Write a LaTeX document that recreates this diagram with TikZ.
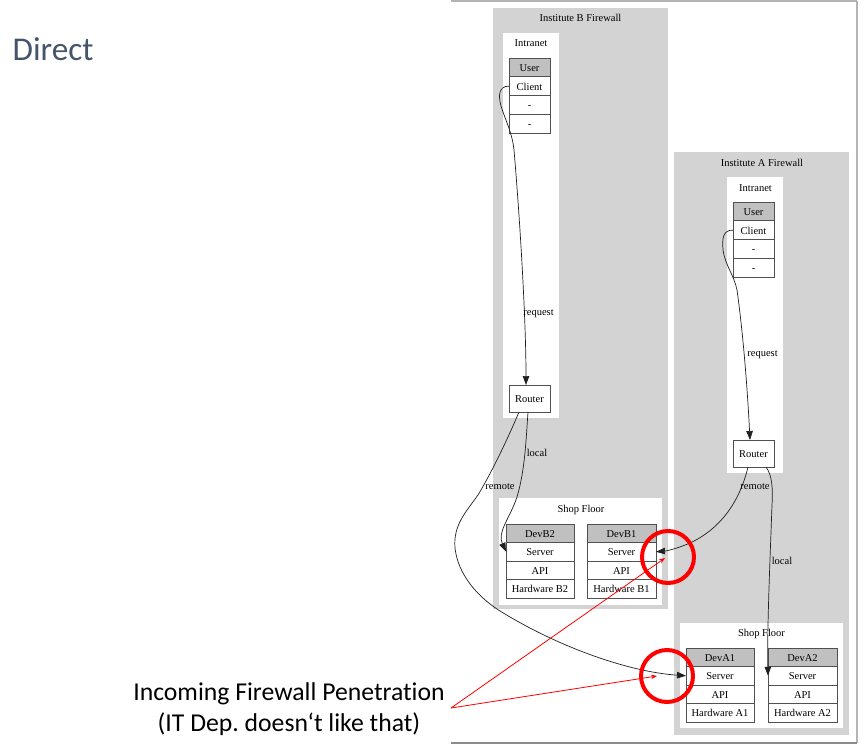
\documentclass[tikz,border=0pt]{standalone}
\usepackage{fontspec}
\setmainfont{Liberation Serif}
\newfontfamily\calibrifont[Ligatures=NoCommon]{Carlito}
\usetikzlibrary{arrows.meta}

\definecolor{clustergrey}{HTML}{D3D3D3}
\definecolor{headgrey}{HTML}{C0C0C0}
\definecolor{cellline}{HTML}{505050}
\definecolor{edgeline}{HTML}{202020}
\definecolor{slate}{HTML}{44546A}
\definecolor{framelight}{HTML}{B4B4B4}
\definecolor{framedark}{HTML}{8C8C8C}

\newcommand{\gvfont}{\fontsize{10.5}{12}\selectfont}

\tikzset{
  cluster/.style={fill=clustergrey, draw=none, inner sep=0pt, outer sep=0pt, anchor=north west},
  panel/.style={fill=white, draw=none, inner sep=0pt, outer sep=0pt, anchor=north west},
  cell/.style={draw=cellline, line width=0.8pt, fill=white, inner sep=0pt, outer sep=0pt,
               anchor=north west, font=\gvfont, text height=9.5pt, text depth=1.5pt},
  head/.style={cell, fill=headgrey},
  userrow/.style={minimum width=41pt, minimum height=18.75pt},
  devrowA/.style={minimum width=68pt, minimum height=18.5pt},
  devrowB/.style={minimum width=69pt, minimum height=18.5pt},
  routerbox/.style={cell, minimum width=41pt, minimum height=27pt},
  gvtitle/.style={font=\gvfont, inner sep=0pt, anchor=base},
  flow/.style={draw=edgeline, line width=0.7pt, -{Triangle[length=9pt,width=6.5pt]}},
  redring/.style={circle, draw=red, line width=4pt, inner sep=0pt, minimum size=52pt},
  redarrow/.style={draw=red, line width=0.8pt, -{Stealth[length=6pt,width=4.5pt]}},
}

\begin{document}
\begin{tikzpicture}[x=1pt,y=-1pt]
\useasboundingbox (0,0) rectangle (866,754);

% page frame around the graph
\draw[framelight, line width=1.5pt] (451,1) -- (857,1);
\draw[framelight, line width=1.2pt] (857,1) -- (857,743);
\draw[framedark, line width=1.2pt] (451,743) -- (857,743);

% heading and annotation
\node[font=\calibrifont\fontsize{33.2}{38}\selectfont, text=slate, anchor=base west, inner sep=0pt]
  (heading) at (12.5,61) {Direct};
\node[font=\calibrifont\fontsize{25.7}{31.5}\selectfont, align=center, inner sep=0pt, anchor=base]
  (note) at (289,731.5) {Incoming Firewall Penetration\\(IT Dep.\ doesn‘t like that)};

% ---------------- Institute B ----------------
\node[cluster, minimum width=175pt, minimum height=601pt] (fwB) at (493,8) {};
\node[gvtitle] (fwBtitle) at (580.5,22) {Institute B Firewall};
\node[panel, minimum width=56pt, minimum height=385pt] (intraB) at (503,33) {};
\node[gvtitle] (intraBtitle) at (531,46.5) {Intranet};
\node[panel, minimum width=163pt, minimum height=107pt] (shopB) at (499,498) {};
\node[gvtitle] (shopBtitle) at (581,512) {Shop Floor};

\node[head, userrow] (userB)   at (509,58)     {User};
\node[cell, userrow] (clientB) at (509,76.75)  {Client};
\node[cell, userrow] (dashB1)  at (509,95.5)   {-};
\node[cell, userrow] (dashB2)  at (509,114.25) {-};
\node[routerbox] (routerB) at (509,385) {Router};

\node[head, devrowA] (devB2)  at (506,524)   {DevB2};
\node[cell, devrowA] (srvB2)  at (506,542.5) {Server};
\node[cell, devrowA] (apiB2)  at (506,561)   {API};
\node[cell, devrowA] (hwB2)   at (506,579.5) {Hardware B2};

\node[head, devrowB] (devB1)  at (587,524)   {DevB1};
\node[cell, devrowB] (srvB1)  at (587,542.5) {Server};
\node[cell, devrowB] (apiB1)  at (587,561)   {API};
\node[cell, devrowB] (hwB1)   at (587,579.5) {Hardware B1};

% ---------------- Institute A ----------------
\node[cluster, minimum width=175pt, minimum height=583pt] (fwA) at (674,152) {};
\node[gvtitle] (fwAtitle) at (762,166) {Institute A Firewall};
\node[panel, minimum width=56pt, minimum height=296pt] (intraA) at (727,177) {};
\node[gvtitle] (intraAtitle) at (755.5,191) {Intranet};
\node[panel, minimum width=163pt, minimum height=105pt] (shopA) at (680,623) {};
\node[gvtitle] (shopAtitle) at (761.5,636) {Shop Floor};

\node[head, userrow] (userA)   at (733,202)    {User};
\node[cell, userrow] (clientA) at (733,220.75) {Client};
\node[cell, userrow] (dashA1)  at (733,239.5)  {-};
\node[cell, userrow] (dashA2)  at (733,258.25) {-};
\node[routerbox] (routerA) at (733,440) {Router};

\node[head, devrowA] (devA1)  at (686,648)   {DevA1};
\node[cell, devrowA] (srvA1)  at (686,666.5) {Server};
\node[cell, devrowA] (apiA1)  at (686,685)   {API};
\node[cell, devrowA] (hwA1)   at (686,703.5) {Hardware A1};

\node[head, devrowB] (devA2)  at (768,648)   {DevA2};
\node[cell, devrowB] (srvA2)  at (768,666.5) {Server};
\node[cell, devrowB] (apiA2)  at (768,685)   {API};
\node[cell, devrowB] (hwA2)   at (768,703.5) {Hardware A2};

% ---------------- connections ----------------
% B: client -> router
\draw[flow] (clientB.west) .. controls (499,86) and (498,95) .. (501,106)
  .. controls (506,122) and (512,132) .. (514,150)
  .. controls (520,220) and (526,320) .. ([xshift=-3.5pt]routerB.north);
\node[gvtitle] (reqB) at (538.5,315) {request};

% B: router -> local device
\draw[flow] ([xshift=-1.5pt]routerB.south) .. controls (526,440) and (525,470) .. (517,497)
  .. controls (510,518) and (497,532) .. (srvB2.west);
\node[gvtitle] (locB) at (537,456) {local};

% B: router -> remote device in institute A
\draw[flow] ([xshift=-10.5pt]routerB.south) .. controls (505,445) and (490,475) .. (478,495)
  .. controls (466,512) and (453,525) .. (455,548)
  .. controls (458,575) and (478,597) .. (500,611)
  .. controls (560,648) and (630,672) .. (srvA1.west);
\node[gvtitle] (remB) at (500,489) {remote};

% A: client -> router
\draw[flow] (clientA.west) .. controls (723,230) and (722,238) .. (723,250)
  .. controls (725,265) and (734,275) .. (737,290)
  .. controls (744,340) and (748,400) .. ([xshift=-3.5pt]routerA.north);
\node[gvtitle] (reqA) at (762.5,356) {request};

% A: router -> remote device in institute B
\draw[flow] ([xshift=-5.5pt]routerA.south) .. controls (740,500) and (722,528) .. (690,543)
  .. controls (676,549) and (666,551) .. (srvB1.east);
\node[gvtitle] (remA) at (755,489) {remote};

% A: router -> local device
\draw[flow] ([xshift=12.5pt]routerA.south) .. controls (772,475) and (773,488) .. (772,505)
  .. controls (770,560) and (767,630) .. (srvA2.west);
\node[gvtitle] (locA) at (782,564) {local};

% ---------------- highlights ----------------
\node[redring] (ringB1) at (668,557) {};
\node[redring] (ringA1) at (667,676) {};
\coordinate (notetip) at (451,708);
\draw[redarrow] (notetip) -- ([shift={(-3pt,-1pt)}]ringB1.center);
\draw[redarrow] (notetip) -- ([xshift=-10pt]ringA1.center);

\end{tikzpicture}
\end{document}
